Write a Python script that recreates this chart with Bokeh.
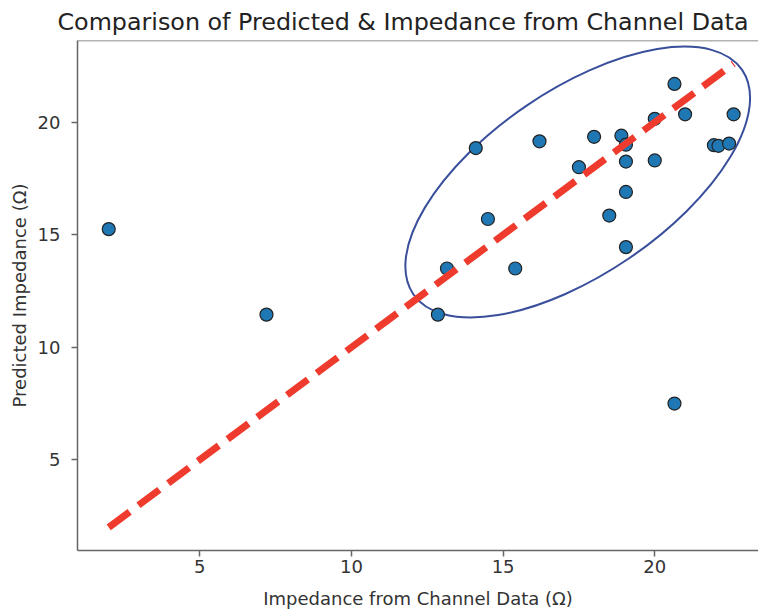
from bokeh.plotting import figure
from bokeh.models import Range1d, Span, FixedTicker
from bokeh.embed import file_html
from bokeh.resources import INLINE
import math

# Data
actual = [2.0, 7.2, 12.85, 13.15, 14.1, 14.5, 15.4, 16.2, 17.5, 18.0, 18.5, 18.9,
          19.05, 19.05, 19.05, 19.05, 20.0, 20.0, 20.65, 21.0, 21.95, 22.1, 22.45,
          22.6, 20.65]
predicted = [15.25, 11.45, 11.45, 13.5, 18.85, 15.7, 13.5, 19.15, 18.0, 19.35, 15.85,
             19.4, 19.0, 18.25, 16.9, 14.45, 20.15, 18.3, 21.7, 20.35, 18.98, 18.95,
             19.05, 20.35, 7.5]
x_ticks = [5, 10, 15, 20]
y_ticks = [5, 10, 15, 20]
title_text = "Comparison of Predicted & Impedance from Channel Data"

lo = min(actual)
hi = max(actual)
span = hi - lo
x_start = lo - 0.05 * span
x_end = 23.42  # reference is cropped at the right
y_start = lo - 0.05 * span
y_end = hi + 0.05 * span

FONT = "DejaVu Sans"
AX = "#666666"

p = figure(width=758, height=614, output_backend="svg", toolbar_location=None,
           x_range=Range1d(x_start, x_end), y_range=Range1d(y_start, y_end),
           min_border_left=77, min_border_right=0, min_border_top=40,
           min_border_bottom=64, title=title_text)
p.xgrid.visible = False
p.ygrid.visible = False
p.outline_line_color = None
p.background_fill_color = "white"

p.title.align = "left"
p.title.offset = -20
p.title.standoff = 10
p.title.text_font = FONT
p.title.text_font_size = "23.8px"
p.title.text_font_style = "normal"
p.title.text_color = "#222222"

for ax, ticks in ((p.xaxis[0], x_ticks), (p.yaxis[0], y_ticks)):
    ax.ticker = FixedTicker(ticks=ticks)
    ax.axis_line_color = AX
    ax.axis_line_width = 1.5
    ax.major_tick_line_color = AX
    ax.major_tick_line_width = 1.5
    ax.major_tick_out = 6
    ax.major_tick_in = 0
    ax.minor_tick_out = 0
    ax.minor_tick_in = 0
    ax.major_label_text_font = FONT
    ax.major_label_text_font_size = "18px"
    ax.major_label_text_color = "#333333"
    ax.axis_label_text_font = FONT
    ax.axis_label_text_font_size = "18px"
    ax.axis_label_text_font_style = "normal"
    ax.axis_label_text_color = "#333333"

p.xaxis.axis_label = "Impedance from Channel Data (Ω)"
p.yaxis.axis_label = "Predicted Impedance (Ω)"
p.xaxis.major_label_standoff = 3
p.yaxis.major_label_standoff = 11
p.xaxis.axis_label_standoff = 12
p.yaxis.axis_label_standoff = 5

top = Span(location=y_end, dimension="width", line_color=AX, line_width=1.5)
p.add_layout(top)

# annotation ellipse (screen-sized)
p.ellipse(x=[17.46], y=[17.34], width=398, height=184, angle=math.radians(34.3),
          width_units="screen", height_units="screen",
          fill_color=None, line_color="#3A4F9C", line_width=2)

p.scatter(actual, predicted, size=13, fill_color="#1f77b4", line_color="#222222",
          line_width=1.2)

p.line([lo, hi], [lo, hi], line_color="#EE3B2E", line_width=7, line_dash="26 11")

open("out.html", "w").write(file_html(p, INLINE))
